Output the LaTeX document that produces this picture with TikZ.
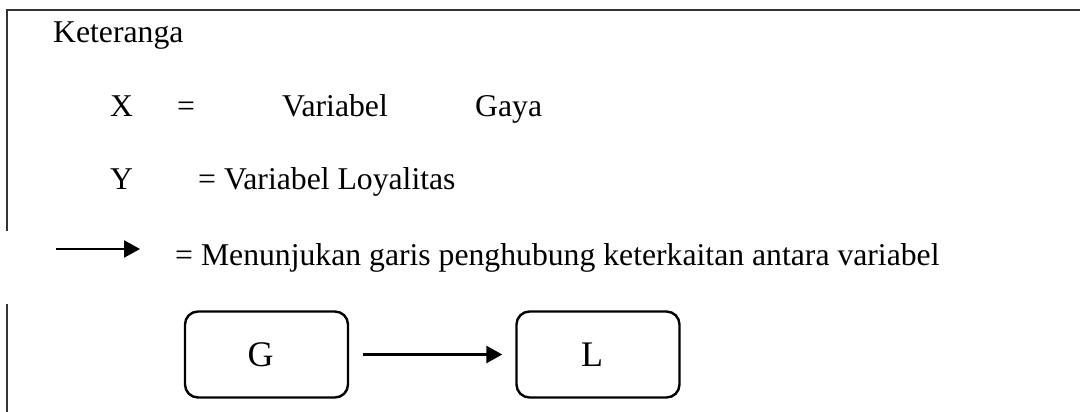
\documentclass[tikz,border=0pt]{standalone}
\usepackage{fontspec}
\setmainfont{Liberation Serif}
\usetikzlibrary{arrows.meta}
\begin{document}
\begin{tikzpicture}[x=1pt,y=-1pt,
  txt/.style={anchor=base west,inner sep=0pt,font=\fontsize{31.7}{35}\selectfont},
  varbox/.style={draw,line width=2.4pt,rounded corners=13pt,minimum width=163pt,minimum height=86pt,inner sep=0pt,font=\fontsize{36}{40}\selectfont},
  frame/.style={line width=1.3pt,draw=black!80},
  link/.style={line width=2.6pt,-{Triangle[length=16pt,width=17pt]}}]
\useasboundingbox (0,0) rectangle (1080,412);
% frame
\draw[frame] (7,412) -- (7,304);
\draw[frame] (7,231) -- (7,10) -- (1080,10);
% legend texts
\node[txt] (ket) at (53,43) {Keteranga};
\node[txt] (x) at (110,117) {X};
\node[txt] (xeq) at (177,117) {=};
\node[txt] (xvar) at (282,117) {Variabel};
\node[txt] (xgaya) at (475,117) {Gaya};
\node[txt] (y) at (110,189) {Y};
\node[txt] (yvar) at (198,189) {= Variabel Loyalitas};
\coordinate (la) at (56,249);
\coordinate (lb) at (140,249);
\draw[link] (la) -- (lb);
\node[txt] (arrtxt) at (175,265) {= Menunjukan garis penghubung keterkaitan antara variabel};
% diagram
\node[varbox] (G) at (266.5,354.5) {G\kern12pt};
\node[varbox] (L) at (598,354.5) {L\kern12pt};
\draw[link,shorten <=14pt,shorten >=13pt] (G) -- (L);
\end{tikzpicture}
\end{document}
